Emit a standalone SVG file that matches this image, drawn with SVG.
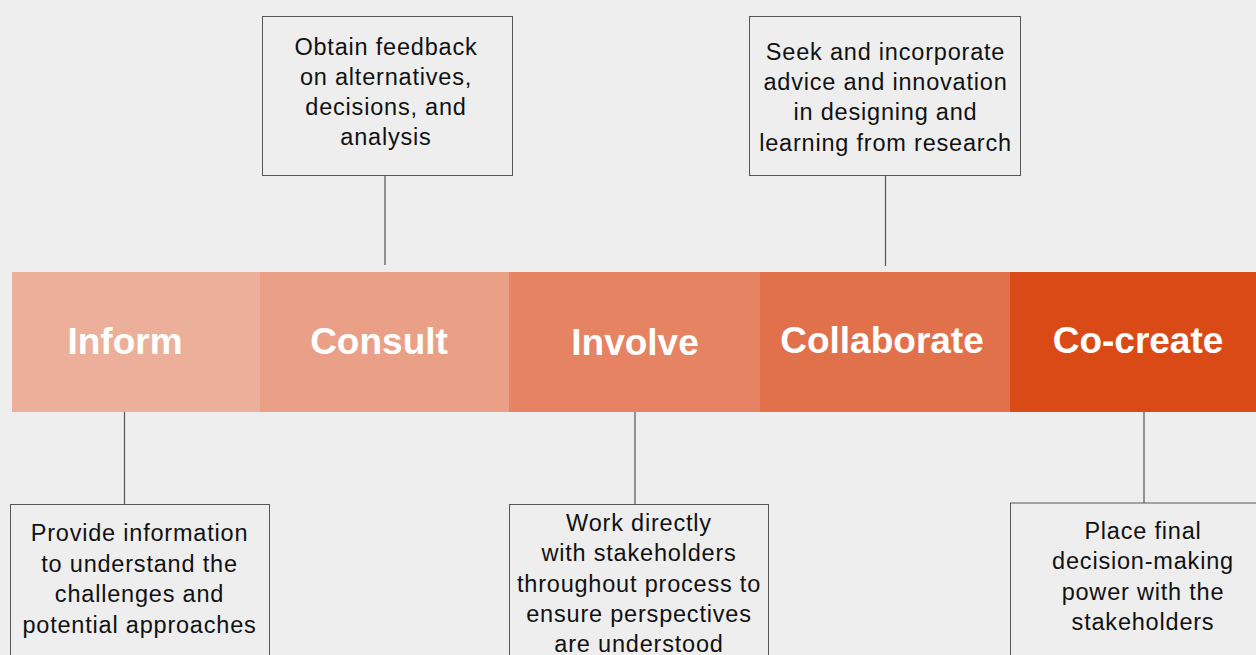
<svg xmlns="http://www.w3.org/2000/svg" width="1256" height="655" viewBox="0 0 1256 655">
<style>
.bg{fill:#eeeeee}
.seg-label{font-family:"Liberation Sans",Arial,Helvetica,sans-serif;font-weight:bold;font-size:37px;fill:#ffffff;text-anchor:middle}
.box{fill:#eeeeee;stroke:#555555;stroke-width:1}
.box-text{font-family:"Liberation Sans",Arial,Helvetica,sans-serif;font-size:23.5px;fill:#111111;text-anchor:middle;letter-spacing:0.8px}
.conn line{stroke:#555555;stroke-width:1.2}
</style>
<rect class="bg" x="0" y="0" width="1256" height="655"/>
<g id="band">
<g id="inform"><rect x="12" y="272" width="248" height="140" fill="#ecaf99"/><text class="seg-label" x="125" y="354">Inform</text></g>
<g id="consult"><rect x="260" y="272" width="249" height="140" fill="#eaa087"/><text class="seg-label" x="379" y="354">Consult</text></g>
<g id="involve"><rect x="509" y="272" width="251" height="140" fill="#e68363"/><text class="seg-label" x="635" y="355">Involve</text></g>
<g id="collaborate"><rect x="760" y="272" width="250" height="140" fill="#e1714b"/><text class="seg-label" x="882" y="353">Collaborate</text></g>
<g id="cocreate"><rect x="1010" y="272" width="246" height="140" fill="#d94a16"/><text class="seg-label" x="1138" y="353">Co-create</text></g>
</g>
<g id="connectors" class="conn">
<line x1="385" y1="175" x2="385" y2="265"/>
<line x1="885.5" y1="175" x2="885.5" y2="266"/>
<line x1="124.5" y1="412" x2="124.5" y2="504"/>
<line x1="635" y1="412" x2="635" y2="504"/>
<line x1="1144" y1="412" x2="1144" y2="503"/>
</g>
<g id="consult-desc">
<rect class="box" x="262.5" y="16.5" width="250" height="159"/>
<text class="box-text" x="386" y="55">Obtain feedback</text>
<text class="box-text" x="386" y="85">on alternatives,</text>
<text class="box-text" x="386" y="115">decisions, and</text>
<text class="box-text" x="386" y="145">analysis</text>
</g>
<g id="collaborate-desc">
<rect class="box" x="749.5" y="16.5" width="271" height="159"/>
<text class="box-text" x="885.5" y="60">Seek and incorporate</text>
<text class="box-text" x="885.5" y="90">advice and innovation</text>
<text class="box-text" x="885.5" y="120">in designing and</text>
<text class="box-text" x="885.5" y="150.5">learning from research</text>
</g>
<g id="inform-desc">
<rect class="box" x="10.5" y="504.5" width="259" height="170"/>
<text class="box-text" x="139.5" y="541">Provide information</text>
<text class="box-text" x="139.5" y="571.5">to understand the</text>
<text class="box-text" x="139.5" y="602">challenges and</text>
<text class="box-text" x="139.5" y="632.5">potential approaches</text>
</g>
<g id="involve-desc">
<rect class="box" x="509.5" y="504.5" width="259" height="170"/>
<text class="box-text" x="639" y="530.5">Work directly</text>
<text class="box-text" x="639" y="561">with stakeholders</text>
<text class="box-text" x="639" y="591.5">throughout process to</text>
<text class="box-text" x="639" y="622">ensure perspectives</text>
<text class="box-text" x="639" y="652">are understood</text>
</g>
<g id="cocreate-desc">
<rect class="box" x="1010.5" y="503" width="270" height="170"/>
<text class="box-text" x="1143" y="538.5">Place final</text>
<text class="box-text" x="1143" y="569">decision-making</text>
<text class="box-text" x="1143" y="599.5">power with the</text>
<text class="box-text" x="1143" y="630">stakeholders</text>
</g>
</svg>
